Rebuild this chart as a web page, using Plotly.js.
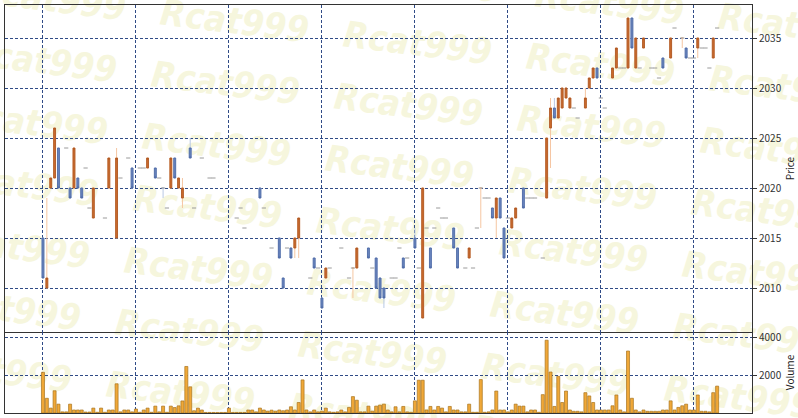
<!DOCTYPE html>
<html>
<head>
<meta charset="utf-8">
<script src="https://cdn.plot.ly/plotly-3.0.1.min.js"></script>
<style>
  html, body { margin: 0; padding: 0; background: #fff; }
  #chart { width: 798px; height: 418px; }
</style>
</head>
<body>
<div id="chart"></div>
<script>
// Candle data, one entry per bar (null = no trade drawn)
const opens = [
  2015, 2010, 2020, 2021, 2024, null, 2024, 2020, 2020, 2021,
  2020, 2022, 2018, 2017, null, null, 2017, 2020, null, 2015,
  2021, null, 2023, 2022, null, 2022, 2022, 2022, null, 2022,
  2021, 2020, 2018, 2020, 2023, 2020, 2019, null, 2024, 2018,
  null, 2023, null, 2021, 2021, null, null, null, null, null,
  2017, 2018, 2016, null, null, null, 2020, 2018, null, 2014,
  null, 2015, 2011, 2014, 2014, 2014, 2015, null, null, 2011,
  2013, 2012, 2009, 2011, 2012, null, null, 2014, null, 2011,
  2012, 2012, null, null, 2014, 2012, 2013, 2011, 2010, null,
  2011, 2011, 2014, 2013, 2013, null, 2015, 2012, 2007, 2016,
  2014, 2016, 2018, 2017, 2017, null, 2016, 2014, null, 2012,
  2013, 2012, 2016, 2020, 2019, 2019, 2018, 2017, 2019, 2016,
  2017, 2016, 2017, null, 2020, 2019, 2019, 2019, null, 2013,
  2019, 2026, 2028, 2027, 2028, 2029, 2028, 2028, 2027, null,
  2028, 2030, 2031, 2032, 2029, 2028, null, 2031, 2032, 2032,
  2032, 2032, 2037, 2032, 2032, 2034, null, 2032, 2032, 2031,
  2033, null, 2033, 2036, null, 2035, 2034, 2033, 2033, 2034,
  2034, 2034, 2032, 2033, 2036
];
const highs = [
  2015, 2019, 2021, 2026, 2024, null, 2024, 2020, 2024, 2021,
  2020, 2022, 2018, 2020, null, null, 2017, 2023, null, 2024,
  2021, null, 2023, 2022, null, 2022, 2022, 2023, null, 2022,
  2021, 2020, 2018, 2023, 2023, 2021, 2021, null, 2025, 2018,
  null, 2023, null, 2021, 2021, null, null, null, null, null,
  2017, 2018, 2016, null, null, null, 2020, 2018, null, 2014,
  null, 2015, 2011, 2014, 2014, 2015, 2017, null, null, 2011,
  2013, 2012, 2009, 2012, 2012, null, null, 2014, null, 2011,
  2012, 2014, null, null, 2014, 2012, 2013, 2011, 2010, null,
  2011, 2011, 2014, 2013, 2013, null, 2016, 2012, 2020, 2016,
  2014, 2016, 2018, 2017, 2017, null, 2016, 2014, null, 2012,
  2014, 2012, 2016, 2020, 2019, 2019, 2018, 2019, 2019, 2016,
  2017, 2017, 2018, null, 2020, 2019, 2019, 2019, null, 2013,
  2025, 2029, 2029, 2029, 2030, 2030, 2029, 2028, 2027, null,
  2030, 2031, 2032, 2032, 2029, 2028, null, 2032, 2034, 2032,
  2032, 2037, 2037, 2035, 2032, 2035, null, 2032, 2032, 2031,
  2033, null, 2035, 2036, null, 2035, 2034, 2033, 2033, 2035,
  2034, 2034, 2032, 2035, 2036
];
const lows = [
  2011, 2010, 2020, 2021, 2020, null, 2024, 2019, 2020, 2020,
  2019, 2022, 2018, 2017, null, null, 2017, 2020, null, 2015,
  2021, null, 2023, 2020, null, 2022, 2022, 2022, null, 2021,
  2021, 2019, 2018, 2020, 2021, 2020, 2018, null, 2023, 2018,
  null, 2023, null, 2021, 2021, null, null, null, null, null,
  2017, 2018, 2016, null, null, null, 2019, 2018, null, 2014,
  null, 2013, 2010, 2014, 2013, 2013, 2013, null, null, 2011,
  2012, 2012, 2008, 2011, 2012, null, null, 2014, null, 2011,
  2009, 2012, null, null, 2013, 2012, 2010, 2009, 2008, null,
  2011, 2011, 2014, 2012, 2013, null, 2014, 2012, 2007, 2016,
  2012, 2016, 2018, 2017, 2017, null, 2014, 2012, null, 2012,
  2013, 2012, 2016, 2016, 2019, 2019, 2017, 2015, 2017, 2013,
  2017, 2016, 2017, null, 2018, 2019, 2019, 2019, null, 2013,
  2019, 2022, 2027, 2027, 2028, 2029, 2028, 2028, 2027, null,
  2028, 2030, 2031, 2031, 2029, 2028, null, 2031, 2032, 2032,
  2032, 2032, 2034, 2032, 2032, 2034, null, 2032, 2032, 2031,
  2032, null, 2033, 2036, null, 2034, 2033, 2033, 2033, 2033,
  2034, 2034, 2032, 2033, 2036
];
const closes = [
  2011, 2011, 2021, 2026, 2020, null, 2024, 2019, 2024, 2020,
  2019, 2022, 2018, 2020, null, null, 2017, 2023, null, 2023,
  2021, null, 2023, 2020, null, 2022, 2022, 2023, null, 2021,
  2021, 2020, 2018, 2023, 2021, 2021, 2020, null, 2023, 2018,
  null, 2023, null, 2021, 2021, null, null, null, null, null,
  2017, 2018, 2016, null, null, null, 2019, 2018, null, 2014,
  null, 2013, 2010, 2014, 2013, 2015, 2017, null, null, 2011,
  2012, 2012, 2008, 2012, 2012, null, null, 2014, null, 2011,
  2012, 2014, null, null, 2013, 2012, 2010, 2009, 2009, null,
  2011, 2011, 2014, 2012, 2013, null, 2014, 2012, 2020, 2016,
  2012, 2016, 2018, 2017, 2017, null, 2014, 2012, null, 2012,
  2014, 2012, 2016, 2020, 2019, 2019, 2017, 2019, 2017, 2013,
  2017, 2017, 2018, null, 2018, 2019, 2019, 2019, null, 2013,
  2025, 2028, 2027, 2029, 2030, 2030, 2029, 2028, 2027, null,
  2029, 2031, 2032, 2031, 2029, 2028, null, 2032, 2034, 2032,
  2032, 2037, 2034, 2035, 2032, 2035, null, 2032, 2032, 2031,
  2032, null, 2035, 2036, null, 2035, 2033, 2033, 2033, 2035,
  2034, 2034, 2032, 2035, 2036
];
const volumes = [
  2160, 780, 260, 1180, 470, 60, 60, 470, 160, 160,
  160, 50, 50, 260, 40, 260, 40, 160, 160, 1550,
  60, 160, 160, 60, 210, 40, 160, 260, 40, 365,
  60, 365, 40, 365, 290, 380, 640, 2470, 1390, 120,
  260, 160, 30, 30, 30, 30, 30, 30, 260, 30,
  30, 30, 30, 160, 160, 60, 260, 160, 100, 150,
  100, 160, 120, 160, 330, 160, 557, 1757, 160, 60,
  160, 60, 100, 260, 60, 40, 60, 160, 60, 296,
  870, 679, 60, 60, 365, 100, 365, 418, 470, 160,
  60, 330, 60, 348, 60, 40, 644, 1740, 1740, 160,
  348, 160, 348, 260, 60, 348, 160, 160, 60, 60,
  470, 40, 40, 1775, 40, 60, 160, 1166, 160, 160,
  60, 160, 470, 365, 365, 60, 160, 160, 40, 974,
  3863, 2175, 348, 1949, 557, 1166, 160, 90, 90, 60,
  1079, 905, 557, 160, 160, 160, 160, 383, 957, 160,
  60, 3289, 783, 160, 60, 160, 90, 90, 90, 90,
  160, 160, 644, 160, 296, 383, 470, 160, 160, 957,
  90, 90, 60, 1079, 1427
];
const priceTicks = [2010, 2015, 2020, 2025, 2030, 2035];
const volumeTicks = [2000, 4000];

const idx = opens.map((_, i) => i);

// Colours
const upBody = '#cc6c2e';
const upEdge = '#a9531f';
const upWick = '#f5c6a2';
const downBody = '#6a86bf';
const downEdge = '#4a66a2';
const downWick = '#b9c9e4';
const gridColor = '#2f4a86';

// Split into wick lines, real bodies and flat (doji) bars
const isDoji = (i) => opens[i] !== null && opens[i] === closes[i];
const hasWick = (i) => opens[i] !== null && highs[i] > lows[i];

const wickTrace = {
  type: 'candlestick',
  x: idx,
  open: idx.map((i) => (hasWick(i) ? opens[i] : null)),
  high: idx.map((i) => (hasWick(i) ? highs[i] : null)),
  low: idx.map((i) => (hasWick(i) ? lows[i] : null)),
  close: idx.map((i) => (hasWick(i) ? closes[i] : null)),
  increasing: { line: { color: upWick, width: 1 }, fillcolor: 'rgba(0,0,0,0)' },
  decreasing: { line: { color: downWick, width: 1 }, fillcolor: 'rgba(0,0,0,0)' },
  whiskerwidth: 0,
  hoverinfo: 'skip',
  xaxis: 'x',
  yaxis: 'y',
};

const bodyTrace = {
  type: 'candlestick',
  x: idx,
  open: idx.map((i) => (isDoji(i) ? null : opens[i])),
  high: idx.map((i) => (isDoji(i) || opens[i] === null ? null : Math.max(opens[i], closes[i]))),
  low: idx.map((i) => (isDoji(i) || opens[i] === null ? null : Math.min(opens[i], closes[i]))),
  close: idx.map((i) => (isDoji(i) ? null : closes[i])),
  increasing: { line: { color: upEdge, width: 0.8 }, fillcolor: upBody },
  decreasing: { line: { color: downEdge, width: 0.8 }, fillcolor: downBody },
  whiskerwidth: 0,
  xaxis: 'x',
  yaxis: 'y',
};

const dojiIdx = idx.filter((i) => isDoji(i));
const dojiTrace = {
  type: 'scatter',
  mode: 'markers',
  x: dojiIdx,
  y: dojiIdx.map((i) => closes[i]),
  marker: { symbol: 'line-ew', size: 3, line: { color: '#9a9a9a', width: 1 } },
  hoverinfo: 'skip',
  xaxis: 'x',
  yaxis: 'y',
};

const volumeTrace = {
  type: 'bar',
  x: idx,
  y: volumes,
  width: 0.78,
  marker: { color: '#f0a838', line: { color: '#a8741e', width: 0.7 } },
  xaxis: 'x2',
  yaxis: 'y2',
};

// Watermark text tiled across the whole figure
const W = 798, H = 418, ML = 5, MR = 46, MT = 5, MB = 5;
const pw = W - ML - MR, ph = H - MT - MB;
const shapes = [];
for (let c = -3; c <= 4; c++) {
  for (let r = -2; r <= 8; r++) {
    const px = 418 + 183 * c - 9 * r;
    const py = 40 + 22 * c + 62 * r;
    if (px < -110 || px > 910 || py < -40 || py > 470) continue;
    const xp = (px - ML) / pw;
    const yp = (H - MB - py) / ph;
    shapes.push({
      type: 'rect',
      xref: 'paper', yref: 'paper',
      x0: xp - 0.005, x1: xp + 0.005, y0: yp - 0.005, y1: yp + 0.005,
      line: { width: 0 },
      fillcolor: 'rgba(0,0,0,0)',
      layer: 'below',
      label: {
        text: 'Rcat999',
        textangle: 7,
        textposition: 'middle center',
        font: {
          family: 'DejaVu Sans Condensed, DejaVu Sans, sans-serif',
          size: 36, color: '#f6f6dd', weight: 'bold', style: 'italic',
        },
      },
    });
  }
}

const axisCommon = {
  showline: true,
  linecolor: '#333',
  linewidth: 1,
  zeroline: false,
  showgrid: true,
  gridcolor: gridColor,
  gridwidth: 1,
  griddash: '3px,2px',
};

const volSplit = (413 - 332) / ph;

const layout = {
  width: W,
  height: H,
  margin: { l: ML, r: MR, t: MT, b: MB },
  paper_bgcolor: '#ffffff',
  plot_bgcolor: 'rgba(0,0,0,0)',
  showlegend: false,
  font: { family: 'Noto Sans CJK JP, Noto Sans, sans-serif', size: 10, color: '#333' },
  shapes: shapes,
  xaxis: Object.assign({}, axisCommon, {
    anchor: 'y',
    mirror: true,
    range: [-9.8, 183],
    tick0: 0,
    dtick: 24,
    ticks: '',
    showticklabels: false,
    rangeslider: { visible: false },
  }),
  xaxis2: Object.assign({}, axisCommon, {
    anchor: 'y2',
    mirror: false,
    matches: 'x',
    tick0: 0,
    dtick: 24,
    ticks: '',
    showticklabels: false,
  }),
  yaxis: Object.assign({}, axisCommon, {
    anchor: 'x',
    mirror: true,
    domain: [volSplit, 1],
    side: 'right',
    range: [2005.6, 2038.3],
    tickvals: priceTicks,
    ticks: 'outside',
    ticklen: 4,
    tickcolor: '#333',
    title: { text: 'Price', font: { size: 10, color: '#222' }, standoff: 6 },
  }),
  yaxis2: Object.assign({}, axisCommon, {
    anchor: 'x2',
    mirror: true,
    domain: [0, volSplit],
    side: 'right',
    range: [0, 4300],
    tickvals: volumeTicks,
    ticks: 'outside',
    ticklen: 4,
    tickcolor: '#333',
    title: { text: 'Volume', font: { size: 10, color: '#222' }, standoff: 6 },
  }),
};

const config = { responsive: false, displayModeBar: false, staticPlot: true };

Plotly.newPlot('chart', [wickTrace, bodyTrace, dojiTrace, volumeTrace], layout, config);
</script>
</body>
</html>
